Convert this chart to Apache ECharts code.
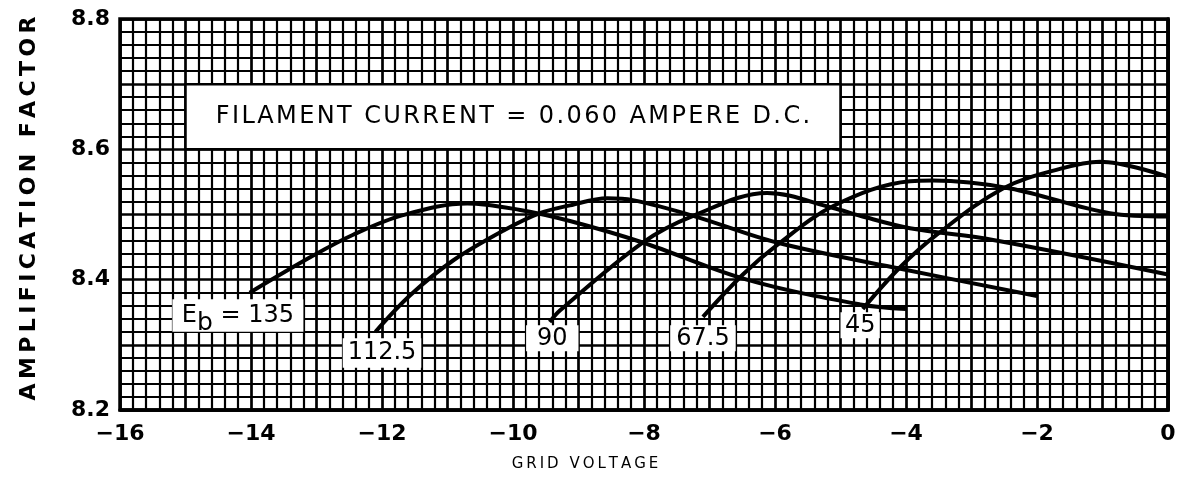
<!DOCTYPE html>
<html>
<head>
<meta charset="utf-8">
<script src="https://cdn.jsdelivr.net/npm/echarts@6/dist/echarts.min.js"></script>
<style>
  html, body { margin: 0; padding: 0; background: #fff; }
  #chart { width: 1185px; height: 477px; }
</style>
</head>
<body>
<div id="chart"></div>
<script>
// curves, one pair of arrays per plate voltage
var eb135X = [-14.02, -13.05, -12.44, -11.68, -10.70, -9.89, -9.13, -8.02, -6.43, -4.70, -4.0];
var eb135Y = [8.380, 8.437, 8.469, 8.499, 8.517, 8.507, 8.490, 8.457, 8.400, 8.362, 8.355];

var eb112X = [-12.1, -11.57, -10.92, -10.15, -9.59, -9.13, -8.56, -8.17, -7.25, -5.97, -4.2, -2.0];
var eb112Y = [8.320, 8.376, 8.429, 8.475, 8.502, 8.514, 8.525, 8.522, 8.498, 8.457, 8.419, 8.375];

var eb90X = [-9.44, -9.28, -8.02, -7.25, -6.12, -5.11, -4.70, -3.94, -2.67, 0];
var eb90Y = [8.335, 8.353, 8.457, 8.498, 8.533, 8.510, 8.498, 8.479, 8.461, 8.408];

var eb67X = [-7.10, -6.49, -5.97, -5.11, -3.94, -3.59, -2.41, -0.89, 0];
var eb67Y = [8.343, 8.408, 8.453, 8.513, 8.551, 8.552, 8.540, 8.502, 8.497];

var eb45X = [-4.66, -4.09, -3.53, -2.52, -1.65, -1.04, 0];
var eb45Y = [8.355, 8.419, 8.469, 8.540, 8.570, 8.581, 8.558];

var xTicks = [-16, -14, -12, -10, -8, -6, -4, -2, 0];
var yTicks = [8.2, 8.4, 8.6, 8.8];

function pairs(xs, ys) {
    var out = [];
    for (var i = 0; i < xs.length; i++) out.push([xs[i], ys[i]]);
    return out;
}

// old drawings space their capitals out; a narrow space between letters does it here
function spaced(s, gap) {
    return s.split('').join(gap || '\u2009');
}

function curve(name, xs, ys) {
    return {
        name: name,
        type: 'line',
        data: pairs(xs, ys),
        smooth: 0.35,
        showSymbol: false,
        z: 5,
        lineStyle: { color: '#000', width: 4 }
    };
}

var chart = echarts.init(document.getElementById('chart'));

chart.setOption({
    animation: false,
    backgroundColor: '#fff',
    grid: { left: 120, right: 17, top: 19, bottom: 62, show: true, borderColor: '#000', borderWidth: 3.5 },
    xAxis: {
        type: 'value', min: -16, max: 0, interval: 1,
        name: spaced('GRID VOLTAGE'), nameLocation: 'middle', nameGap: 47,
        nameTextStyle: { fontFamily: 'DejaVu Sans', fontSize: 15, color: '#000', padding: [0, 118, 0, 0] },
        axisLine: { lineStyle: { color: '#000', width: 3.5 } },
        axisTick: { show: false },
        axisLabel: {
            margin: 13, color: '#000', fontFamily: 'DejaVu Sans', fontWeight: 'bold', fontSize: 22,
            formatter: function (v) {
                if (xTicks.indexOf(v) < 0) return '';
                return v < 0 ? '\u2212' + Math.abs(v) : String(v);
            }
        },
        splitLine: { show: true, lineStyle: { color: '#000', width: 2.7 } },
        minorTick: { show: false, splitNumber: 5 },
        minorSplitLine: { show: true, lineStyle: { color: '#000', width: 2.2 } }
    },
    yAxis: {
        type: 'value', min: 8.2, max: 8.8, interval: 0.1,
        name: spaced('AMPLIFICATION FACTOR'), nameLocation: 'middle', nameGap: 80, nameRotate: 90,
        nameTextStyle: { fontFamily: 'DejaVu Sans', fontWeight: 'bold', fontSize: 22, color: '#000', padding: [0, 0, 0, 12] },
        axisLine: { lineStyle: { color: '#000', width: 3.5 } },
        axisTick: { show: false },
        axisLabel: {
            margin: 10, color: '#000', fontFamily: 'DejaVu Sans', fontWeight: 'bold', fontSize: 22,
            formatter: function (v) {
                var r = Math.round(v * 10) / 10;
                for (var i = 0; i < yTicks.length; i++) {
                    if (Math.abs(yTicks[i] - r) < 1e-6) return r.toFixed(1);
                }
                return '';
            }
        },
        splitLine: { show: true, lineStyle: { color: '#000', width: 2.7 } },
        minorTick: { show: false, splitNumber: 5 },
        minorSplitLine: { show: true, lineStyle: { color: '#000', width: 2.2 } }
    },
    series: [
        curve('135', eb135X, eb135Y),
        curve('112.5', eb112X, eb112Y),
        curve('90', eb90X, eb90Y),
        curve('67.5', eb67X, eb67Y),
        curve('45', eb45X, eb45Y)
    ]
});

// white label boxes, corners given in axis units
var boxes = [
    { x0: -15, y0: 8.7, x1: -5, y1: 8.6, text: spaced('FILAMENT CURRENT = 0.060 AMPERE D.C.', '\u200a'), size: 24, stroke: true },
    { x0: -15.2, y0: 8.37, x1: -13.2, y1: 8.32, text: '{e|E}{b|b}{e| = 135}', size: 24 },
    { x0: -12.6, y0: 8.31, x1: -11.4, y1: 8.265, text: '112.5', size: 24 },
    { x0: -9.8, y0: 8.33, x1: -9.0, y1: 8.29, text: '90', size: 24 },
    { x0: -7.6, y0: 8.33, x1: -6.6, y1: 8.29, text: '67.5', size: 24 },
    { x0: -5.0, y0: 8.35, x1: -4.4, y1: 8.31, text: '45', size: 24 }
];

var els = [];
boxes.forEach(function (b) {
    var p0 = chart.convertToPixel({ gridIndex: 0 }, [b.x0, b.y0]);
    var p1 = chart.convertToPixel({ gridIndex: 0 }, [b.x1, b.y1]);
    els.push({
        type: 'rect', z: 10,
        shape: { x: p0[0], y: p0[1], width: p1[0] - p0[0], height: p1[1] - p0[1] },
        style: { fill: '#fff', stroke: b.stroke ? '#000' : null, lineWidth: 2.5 }
    });
    els.push({
        type: 'text', z: 11,
        x: (p0[0] + p1[0]) / 2, y: (p0[1] + p1[1]) / 2,
        style: {
            text: b.text, fill: '#000', fontFamily: 'DejaVu Sans', fontSize: b.size,
            align: 'center', verticalAlign: 'middle',
            rich: {
                e: { fontFamily: 'DejaVu Sans', fontSize: 24, fill: '#000' },
                b: { fontFamily: 'DejaVu Sans', fontSize: 25, fill: '#000', padding: [16, 0, 0, 0] }
            }
        }
    });
});
chart.setOption({ graphic: els });
</script>
</body>
</html>
